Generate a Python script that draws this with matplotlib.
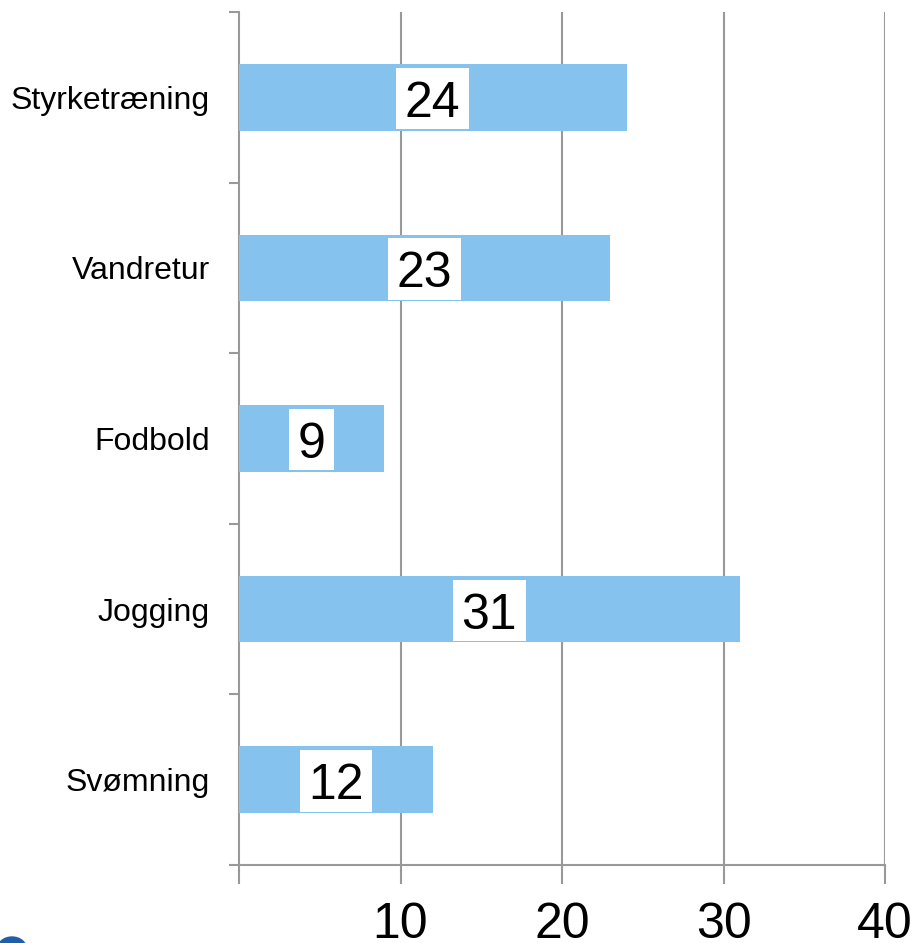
import matplotlib
matplotlib.use("Agg")
import matplotlib.pyplot as plt
from matplotlib.patches import Ellipse
from matplotlib.path import Path
from matplotlib.transforms import offset_copy

categories = ["Styrketræning", "Vandretur", "Fodbold", "Jogging", "Svømning"]
values = [24, 23, 9, 31, 12]
xticks = [0, 10, 20, 30, 40]
xtick_labels = ["", "10", "20", "30", "40"]

plt.rcParams['font.family'] = ['Liberation Sans', 'DejaVu Sans']

fig = plt.figure(figsize=(9.15, 9.43), dpi=100)
ax = fig.add_axes([239/915, 1-865/943, (885-239)/915, (865-12)/943])

n = len(categories)
ypos = list(range(n))
ax.barh(ypos, values, height=0.39, color="#85C3EE", zorder=3)
ax.set_ylim(n-0.5, -0.5)
ax.set_xlim(0, 40)


def label_box(x0, y0, width, height, mutation_size):
    px = 0.17 * mutation_size
    top = 0.26 * mutation_size
    bot = 0.05 * mutation_size
    x1, y1 = x0 - px, y0 - bot
    x2, y2 = x0 + width + px, y0 + height + top
    return Path([(x1, y1), (x2, y1), (x2, y2), (x1, y2), (x1, y1)], closed=True)


shifted = offset_copy(ax.transData, fig=fig, x=0, y=-6.5, units="dots")
for y, v in zip(ypos, values):
    ax.text(v/2, y, str(v), ha="center", va="center", fontsize=36, color="black", zorder=6,
            transform=shifted,
            bbox=dict(boxstyle=label_box, fc="white", ec="none"))

gcol = "#999999"
for x in [10, 20, 30, 40]:
    ax.axvline(x, color=gcol, lw=1.5, zorder=1)

for s in ["top", "right"]:
    ax.spines[s].set_visible(False)
for s in ["left", "bottom"]:
    ax.spines[s].set_color(gcol)
    ax.spines[s].set_linewidth(1.5)

ax.set_yticks(ypos)
ax.set_yticklabels(categories, fontsize=23)
ax.tick_params(axis="y", which="major", length=0, pad=21)
ax.set_yticks([i - 0.5 for i in range(n + 1)], minor=True)
ax.tick_params(axis="y", which="minor", length=7, width=1.5, color=gcol)

ax.set_xticks(xticks)
ax.set_xticklabels(xtick_labels, fontsize=36)
ax.tick_params(axis="x", length=14, width=1.5, color=gcol, pad=13)

fig.add_artist(Ellipse((12/915, 1-948/943), 28/915, 22/943, transform=fig.transFigure,
                       color="#1F5FA8", clip_on=False))

fig.savefig("out.png", dpi=100)
